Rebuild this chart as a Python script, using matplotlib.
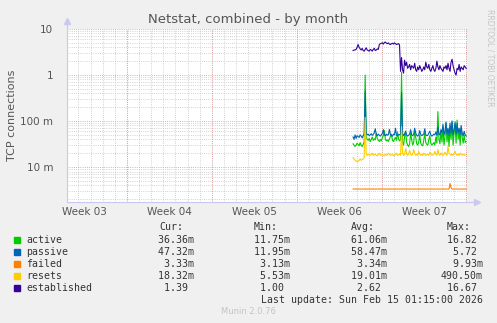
import matplotlib
matplotlib.use("Agg")
import matplotlib.pyplot as plt
from matplotlib.transforms import blended_transform_factory
import numpy as np

# series sampled every 2 hours, first sample at day 23.6 of the 33 day window
start_day = 23.6
step_day = 2 / 24.0

active = [0.032, 0.030, 0.028, 0.030, 0.033, 0.031, 0.029, 0.034, 0.030, 0.028, 0.031, 0.035,
          1.0,
          0.045, 0.040, 0.038, 0.042, 0.036, 0.040, 0.045, 0.038, 0.041, 0.039, 0.055, 0.042,
          0.038, 0.036, 0.040, 0.037, 0.044, 0.048, 0.062, 0.040, 0.037, 0.039, 0.036, 0.041,
          0.046, 0.052, 0.038, 0.036, 0.040, 0.044, 0.038, 0.058, 0.041, 0.037, 0.039,
          1.15,
          0.035, 0.030, 0.045, 0.060, 0.035, 0.030, 0.028, 0.032, 0.055, 0.040, 0.030, 0.034,
          0.060, 0.045, 0.032, 0.030, 0.035, 0.050, 0.033, 0.030, 0.029, 0.038, 0.055, 0.034,
          0.031, 0.030, 0.040, 0.048, 0.033, 0.030, 0.032, 0.034, 0.030, 0.045, 0.033, 0.160,
          0.040, 0.032, 0.060, 0.035, 0.075, 0.030, 0.045, 0.090, 0.035, 0.060, 0.028, 0.070,
          0.040, 0.095, 0.030, 0.055, 0.085, 0.033, 0.105, 0.040, 0.060, 0.030, 0.070, 0.045,
          0.033, 0.050, 0.034, 0.036]

passive = [0.045, 0.040, 0.050, 0.042, 0.048, 0.046, 0.044, 0.050, 0.047, 0.043, 0.048, 0.052,
           0.45,
           0.055, 0.050, 0.052, 0.048, 0.050, 0.053, 0.049, 0.051, 0.056, 0.068, 0.050, 0.048,
           0.052, 0.049, 0.047, 0.050, 0.054, 0.065, 0.050, 0.048, 0.052, 0.049, 0.051, 0.066,
           0.050, 0.048, 0.047, 0.052, 0.050, 0.070, 0.049, 0.048, 0.051, 0.050, 0.053,
           0.42,
           0.055, 0.048, 0.052, 0.060, 0.050, 0.047, 0.049, 0.052, 0.065, 0.050, 0.048, 0.051,
           0.070, 0.055, 0.049, 0.047, 0.050, 0.062, 0.051, 0.048, 0.050, 0.052, 0.068, 0.050,
           0.048, 0.049, 0.055, 0.060, 0.050, 0.047, 0.049, 0.052, 0.050, 0.058, 0.049, 0.075,
           0.052, 0.050, 0.065, 0.055, 0.085, 0.050, 0.060, 0.095, 0.052, 0.070, 0.048, 0.090,
           0.055, 0.100, 0.050, 0.065, 0.095, 0.052, 0.090, 0.055, 0.070, 0.050, 0.080, 0.055,
           0.048, 0.060, 0.050, 0.047]

failed = [0.00333, 0.00333, 0.00333, 0.00333, 0.00333, 0.00333, 0.00333, 0.00333, 0.00333, 0.00333,
          0.00333, 0.00333, 0.00334, 0.00333, 0.00333, 0.00333, 0.00333, 0.00333, 0.00333, 0.00333,
          0.00333, 0.00333, 0.00333, 0.00333, 0.00333, 0.00333, 0.00333, 0.00333, 0.00333, 0.00333,
          0.00333, 0.00333, 0.00333, 0.00333, 0.00333, 0.00333, 0.00333, 0.00333, 0.00333, 0.00333,
          0.00333, 0.00333, 0.00333, 0.00333, 0.00333, 0.00333, 0.00333, 0.00333, 0.00334, 0.00333,
          0.00333, 0.00333, 0.00333, 0.00333, 0.00333, 0.00333, 0.00333, 0.00333, 0.00333, 0.00333,
          0.00333, 0.00333, 0.00333, 0.00333, 0.00333, 0.00333, 0.00333, 0.00333, 0.00333, 0.00333,
          0.00333, 0.00333, 0.00333, 0.00333, 0.00333, 0.00333, 0.00333, 0.00333, 0.00333, 0.00333,
          0.00333, 0.00333, 0.00333, 0.00333, 0.00333, 0.00333, 0.00333, 0.00333, 0.00333, 0.00333,
          0.00333, 0.00333, 0.00333, 0.00333, 0.00333, 0.00333, 0.00440, 0.00360, 0.00333, 0.00333,
          0.00333, 0.00333, 0.00333, 0.00333, 0.00333, 0.00333, 0.00333, 0.00333, 0.00333, 0.00333,
          0.00333, 0.00333, 0.00333]

resets = [0.016, 0.015, 0.014, 0.0135, 0.013, 0.0135, 0.014, 0.015, 0.014, 0.0145, 0.015, 0.016,
          0.12,
          0.019, 0.018, 0.019, 0.0185, 0.018, 0.019, 0.020, 0.018, 0.0185, 0.019, 0.018, 0.0175,
          0.019, 0.020, 0.018, 0.0185, 0.019, 0.018, 0.0175, 0.019, 0.018, 0.0185, 0.020, 0.019,
          0.018, 0.0185, 0.019, 0.0175, 0.018, 0.019, 0.020, 0.018, 0.0185, 0.019, 0.018,
          0.075,
          0.020, 0.018, 0.019, 0.025, 0.020, 0.018, 0.019, 0.023, 0.019, 0.018, 0.019, 0.024,
          0.020, 0.018, 0.019, 0.018, 0.022, 0.019, 0.018, 0.019, 0.018, 0.020, 0.019, 0.018,
          0.0185, 0.019, 0.018, 0.021, 0.019, 0.018, 0.0185, 0.019, 0.022, 0.019, 0.018, 0.024,
          0.019, 0.018, 0.020, 0.019, 0.018, 0.019, 0.021, 0.019, 0.018, 0.028, 0.020, 0.019,
          0.018, 0.019, 0.018, 0.020, 0.022, 0.019, 0.018, 0.019, 0.018, 0.020, 0.019, 0.018,
          0.019, 0.0185, 0.018, 0.0183]

established = [3.4, 3.5, 3.5, 3.6, 4.0, 4.6,
               4.0, 3.7, 3.5, 3.8, 3.4, 3.3, 3.6, 3.9, 3.5, 3.4,
               3.3, 3.6, 3.5, 3.3, 3.6, 3.8, 3.4, 3.5, 3.7, 3.6,
               4.6, 4.8, 4.9, 5.0, 4.7, 5.1, 5.2, 4.9, 4.8, 5.0,
               4.7, 4.6, 4.8, 4.9, 4.7, 5.0, 4.8, 4.6, 4.7, 4.8,
               4.5,
               1.2, 2.4, 1.3, 1.1, 2.1, 1.6, 1.9, 1.4, 1.5, 1.7, 1.3, 1.6, 1.5, 1.4, 1.8,
               1.3, 1.2, 1.5, 1.3, 1.6, 1.4, 1.2, 1.3, 1.5, 1.3, 1.9, 1.5, 1.4, 1.7, 1.3,
               1.2, 1.4, 1.6, 1.3, 1.2, 1.4, 2.0, 1.5, 1.3, 1.6, 1.4, 1.3, 1.2, 1.5, 1.4,
               1.6, 1.3, 1.8, 1.4, 1.2, 1.9, 2.2, 1.6, 1.3, 1.1, 1.0, 1.4, 1.3, 1.7, 1.2,
               1.5, 1.4, 1.3, 1.6, 1.5, 1.39]

names = ["active", "passive", "failed", "resets", "established"]
colors = ["#00CC00", "#0066B3", "#FF8000", "#FFCC00", "#330099"]
cur = ["36.36m", "47.32m", "3.33m", "18.32m", "1.39 "]
mins = ["11.75m", "11.95m", "3.13m", "5.53m", "1.00 "]
avgs = ["61.06m", "58.47m", "3.34m", "19.01m", "2.62 "]
maxs = ["16.82 ", "5.72 ", "9.93m", "490.50m", "16.67 "]
weeks = ["Week 03", "Week 04", "Week 05", "Week 06", "Week 07"]
week_end = 33 - 1.25 / 24  # Sunday 00:00 just before the last update

W, H = 497, 323
fig = plt.figure(figsize=(W / 100, H / 100), dpi=100, facecolor="#F0F0F0")
ax = fig.add_axes([67 / W, 1 - 202 / H, 400 / W, 173 / H], facecolor="white")

ymin, ymax = 1.74e-3, 10
ax.set_yscale("log")
ax.set_xlim(0, 33)
ax.set_ylim(ymin, ymax)

# grid: daily / weekly, minor and major decades
minor_c = "#C4C4C4"
major_c = "#E09090"
dots = (0, (1, 1.6))
for d in np.arange(week_end, 0, -1.0):
    ax.axvline(d, color=minor_c, lw=0.6, ls=dots, zorder=0)
for d in np.arange(week_end, 0, -7.0):
    ax.axvline(d, color=major_c, lw=0.6, ls=dots, zorder=1)
for e in [-3, -2, -1, 0]:
    for m in range(2, 10):
        v = m * 10.0 ** e
        if ymin < v < ymax:
            ax.axhline(v, color=minor_c, lw=0.6, ls=dots, zorder=0)
for v in [0.01, 0.1, 1, 10]:
    ax.axhline(v, color=major_c, lw=0.6, ls=dots, zorder=1)

series = [active, passive, failed, resets, established]
for vals, c in zip(series, colors):
    x = start_day + step_day * np.arange(len(vals))
    ax.plot(x, vals, color=c, lw=0.8, zorder=3)

for s in ax.spines.values():
    s.set_visible(False)
axc = "#C8C8F0"
ax.plot([0, 0], [0, 1.04], color=axc, lw=0.8, transform=ax.transAxes, clip_on=False)
ax.plot([0, 1.02], [0, 0], color=axc, lw=0.8, transform=ax.transAxes, clip_on=False)
ax.plot([0], [1.045], marker="^", ms=4, color=axc, transform=ax.transAxes, clip_on=False)
ax.plot([1.025], [0], marker=">", ms=4, color=axc, transform=ax.transAxes, clip_on=False)

ax.set_yticks([0.01, 0.1, 1, 10])
ax.set_yticklabels(["10 m", "100 m", "1", "10"])
ax.yaxis.set_minor_locator(matplotlib.ticker.NullLocator())
ax.tick_params(axis="y", length=0, pad=10, labelsize=7.5, labelcolor="#555555")
ax.set_xticks([])

tr = blended_transform_factory(ax.transData, ax.transAxes)
for i, w in enumerate(weeks):
    mid = week_end - 7 * (len(weeks) - i) + 3.5
    ax.text(mid, -0.06, w, transform=tr, ha="center", va="center",
            fontsize=7.5, color="#555555")

ax.set_ylabel("TCP connections", fontsize=8, color="#555555", labelpad=2)
fig.text(248 / W, 1 - 19 / H, "Netstat, combined - by month", ha="center", va="center",
         fontsize=9.5, color="#555555")
fig.text(490 / W, 1 - 58 / H, "RRDTOOL / TOBI OETIKER", rotation=-90, ha="center",
         va="center", fontsize=5.5, color="#C4C4C4")


def fx(px):
    return px / W


def fy(py):
    return 1 - py / H


mono = dict(family="DejaVu Sans Mono", fontsize=7.1, color="#333333", va="center")
fig.text(fx(159), fy(227), "Cur:", **mono)
fig.text(fx(254), fy(227), "Min:", **mono)
fig.text(fx(351), fy(227), "Avg:", **mono)
fig.text(fx(447), fy(227), "Max:", **mono)
for i, n in enumerate(names):
    y = 240 + 12 * i
    fig.patches.append(plt.Rectangle((fx(14), fy(y + 3)), 6 / W, 6 / H, color=colors[i],
                                     transform=fig.transFigure, figure=fig))
    fig.text(fx(26), fy(y), n, **mono)
    fig.text(fx(194), fy(y), cur[i].rjust(7), ha="right", **mono)
    fig.text(fx(290), fy(y), mins[i].rjust(7), ha="right", **mono)
    fig.text(fx(387), fy(y), avgs[i].rjust(7), ha="right", **mono)
    fig.text(fx(483), fy(y), maxs[i].rjust(7), ha="right", **mono)
fig.text(fx(483), fy(300), "Last update: Sun Feb 15 01:15:00 2026", ha="right", **mono)
fig.text(fx(248), fy(312), "Munin 2.0.76", ha="center", va="center", fontsize=6,
         color="#C4C4C4")

fig.savefig("out.png", dpi=100, facecolor=fig.get_facecolor())
